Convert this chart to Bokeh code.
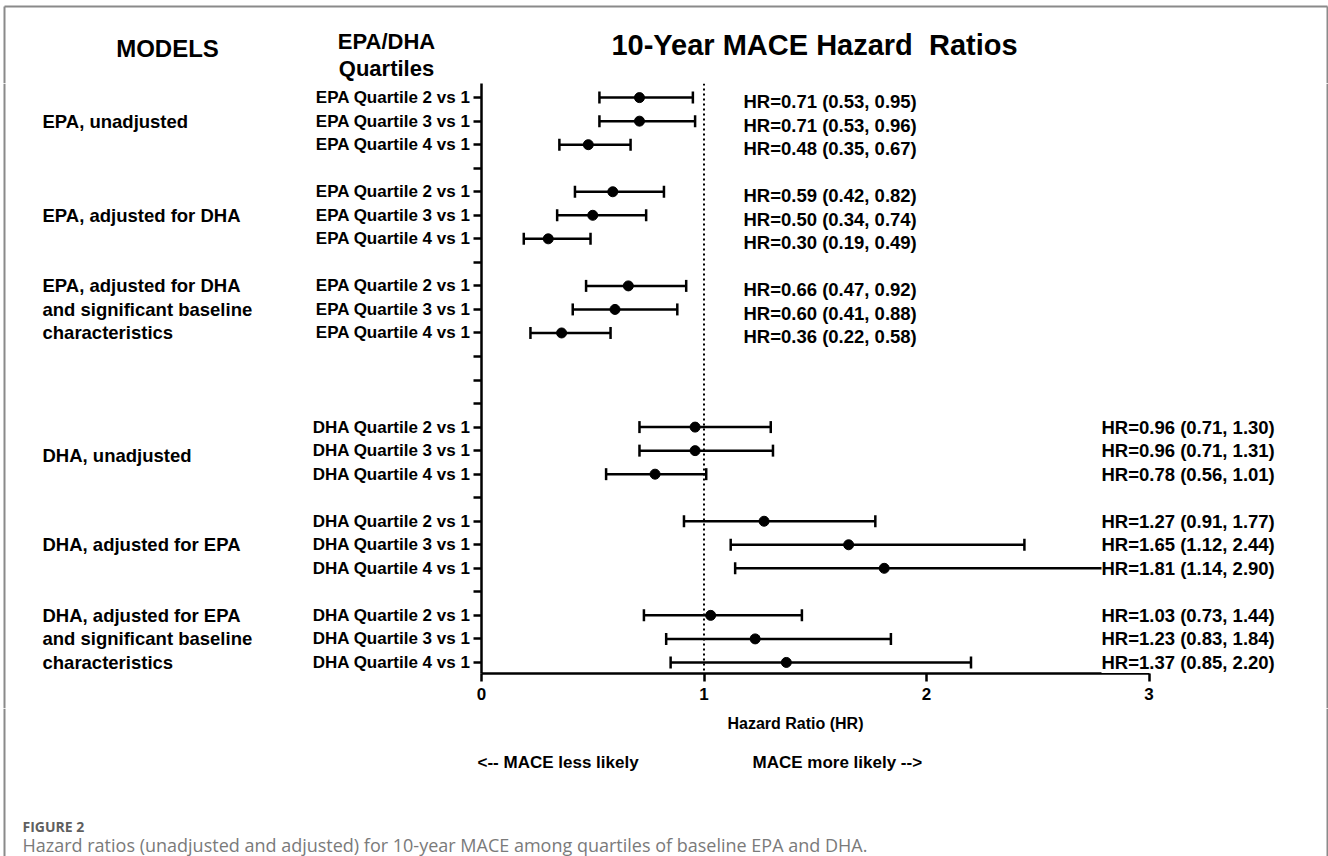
from bokeh.plotting import figure
from bokeh.layouts import column, row
from bokeh.models import (ColumnDataSource, Range1d, FixedTicker, Whisker, TeeHead,
                          Span, Label, LabelSet)
from bokeh.core.properties import value
from bokeh.embed import file_html
from bokeh.resources import INLINE

# ---------------- data ----------------
# y slots (top to bottom); "" = empty spacer row
slots = ["EPA Quartile 2 vs 1", "EPA Quartile 3 vs 1", "EPA Quartile 4 vs 1", "",
         "EPA Quartile 2 vs 1", "EPA Quartile 3 vs 1", "EPA Quartile 4 vs 1", "",
         "EPA Quartile 2 vs 1", "EPA Quartile 3 vs 1", "EPA Quartile 4 vs 1", "", "", "",
         "DHA Quartile 2 vs 1", "DHA Quartile 3 vs 1", "DHA Quartile 4 vs 1", "",
         "DHA Quartile 2 vs 1", "DHA Quartile 3 vs 1", "DHA Quartile 4 vs 1", "",
         "DHA Quartile 2 vs 1", "DHA Quartile 3 vs 1", "DHA Quartile 4 vs 1"]

hr = [0.71, 0.71, 0.48, 0.59, 0.50, 0.30, 0.66, 0.60, 0.36,
      0.96, 0.96, 0.78, 1.27, 1.65, 1.81, 1.03, 1.23, 1.37]
ci_low = [0.53, 0.53, 0.35, 0.42, 0.34, 0.19, 0.47, 0.41, 0.22,
          0.71, 0.71, 0.56, 0.91, 1.12, 1.14, 0.73, 0.83, 0.85]
ci_high = [0.95, 0.96, 0.67, 0.82, 0.74, 0.49, 0.92, 0.88, 0.58,
           1.30, 1.31, 1.01, 1.77, 2.44, 2.90, 1.44, 1.84, 2.20]

models = [["EPA, unadjusted"],
          ["EPA, adjusted for DHA"],
          ["EPA, adjusted for DHA", "and significant baseline", "characteristics"],
          ["DHA, unadjusted"],
          ["DHA, adjusted for EPA"],
          ["DHA, adjusted for EPA", "and significant baseline", "characteristics"]]

x_ticks = [0, 1, 2, 3]

title = "10-Year MACE Hazard\u00a0 Ratios"
x_title = "Hazard Ratio (HR)"
caption_head = "FIGURE 2"
caption = ("Hazard ratios (unadjusted and adjusted) for 10-year MACE among quartiles "
           "of baseline EPA and DHA.")

# ---------------- layout (page pixels) ----------------
W, H = 1328, 856
TOP_H = 83                 # header strip
MID_H = 625                # plot strip (frame 590 + 35 for x ticks)
BOT_H = H - TOP_H - MID_H  # caption strip
LEFT_W = 300               # model-name column
FRAME_L = 481              # page x of HR = 0
FRAME_W = 827
RIGHT_W = W - FRAME_L - FRAME_W   # thin strip holding right border
MAIN_W = W - LEFT_W - RIGHT_W
FRAME_H = 590
XBORDER = MID_H - FRAME_H
PX_PER_UNIT = 222.5
Y_TOP, Y_BOT = -0.6, 24.47
ROW_PX = FRAME_H / (Y_BOT - Y_TOP)

FONT = "Liberation Sans"
BORDER = "#8a8a8a"
BX_L, BX_R, BX_T = 4, W - 1, 6      # page border edges


def blank_fig(w, h, x0, y0, y_range=None):
    f = figure(width=w, height=h, output_backend="svg", toolbar_location=None,
               x_range=Range1d(x0, x0 + w),
               y_range=y_range if y_range is not None else Range1d(y0 + h, y0),
               x_axis_type=None, y_axis_type=None, frame_align=False,
               min_border_left=0, min_border_right=0, min_border_top=0, min_border_bottom=0)
    f.outline_line_color = None
    f.grid.visible = False
    f.background_fill_color = "white"
    f.border_fill_color = "white"
    return f


def label(f, text, x, y, size, align="left", color="black", font=FONT, style="bold"):
    f.add_layout(Label(x=x, y=y, text=text, text_font=font, text_font_style=style,
                       text_font_size=size, text_align=align, text_baseline="middle",
                       text_color=color))


def border_lines(f, xs, y0, y1, top_edge=None):
    f.segment(x0=xs, x1=xs, y0=[y0] * len(xs), y1=[y1] * len(xs),
              line_color=BORDER, line_width=2)
    if top_edge is not None:
        f.segment(x0=[BX_L], x1=[BX_R], y0=[top_edge], y1=[top_edge],
                  line_color=BORDER, line_width=2)


# ---------- header strip ----------
top = blank_fig(W, TOP_H, 0, 0)
border_lines(top, [BX_L, BX_R], BX_T, TOP_H, top_edge=BX_T)
label(top, "MODELS", 167, 48, "24px", "center")
label(top, "EPA/DHA", 386, 41, "22px", "center")
label(top, "Quartiles", 386, 68, "22px", "center")
label(top, title, 814, 44, "29px", "center")

# ---------- main plot ----------
rows = [i for i, s in enumerate(slots) if s]
is_epa = [slots[r].startswith("EPA") for r in rows]
LBL_X_EPA = (743 - FRAME_L) / PX_PER_UNIT
LBL_X_DHA = (1101 - FRAME_L) / PX_PER_UNIT
label_x = [LBL_X_EPA if e else LBL_X_DHA for e in is_epa]
label_y = [r + (0.17 if e else 0.0) for r, e in zip(rows, is_epa)]
texts = [f"HR={h:.2f} ({l:.2f}, {u:.2f})" for h, l, u in zip(hr, ci_low, ci_high)]

src = ColumnDataSource(dict(row=rows, hr=hr, lo=ci_low, hi=ci_high,
                            lx=label_x, ly=label_y, txt=texts))

p = figure(width=MAIN_W, height=MID_H, output_backend="svg", toolbar_location=None,
           x_range=Range1d(0, FRAME_W / PX_PER_UNIT), y_range=Range1d(Y_BOT, Y_TOP),
           min_border_left=FRAME_L - LEFT_W, min_border_right=0,
           min_border_top=0, min_border_bottom=XBORDER)
p.outline_line_color = None
p.grid.visible = False
p.background_fill_color = "white"
p.border_fill_color = "white"

xa = p.xaxis[0]
xa.ticker = FixedTicker(ticks=x_ticks)
xa.bounds = (0, 3)
ya = p.yaxis[0]
ya.ticker = FixedTicker(ticks=list(range(len(slots))))
ya.major_label_overrides = {i: s for i, s in enumerate(slots)}
for ax in (xa, ya):
    ax.axis_line_width = 2.5
    ax.axis_line_color = "black"
    ax.major_tick_line_width = 2.5
    ax.major_tick_line_color = "black"
    ax.major_tick_out = 8
    ax.major_tick_in = 0
    ax.minor_tick_line_color = None
    ax.major_label_text_font = FONT
    ax.major_label_text_font_style = "bold"
    ax.major_label_text_color = "black"
ya.major_label_text_font_size = "17px"
ya.major_label_standoff = 3
xa.major_label_text_font_size = "17px"
xa.major_label_standoff = 6

p.add_layout(Span(location=1, dimension="height", line_color="black",
                  line_width=2, line_dash="2 3"))

wh = Whisker(source=src, base="row", lower="lo", upper="hi", dimension="width",
             line_width=2.5, line_color="black", level="underlay",
             lower_head=TeeHead(size=12, line_width=2.5, line_color="black"),
             upper_head=TeeHead(size=12, line_width=2.5, line_color="black"))
p.add_layout(wh)

p.scatter(x="hr", y="row", source=src, size=10, color="black")

p.add_layout(LabelSet(x="lx", y="ly", text="txt", source=src,
                      text_font=value(FONT), text_font_style="bold", text_font_size="18.5px",
                      text_baseline="middle", text_align="left", text_color="black",
                      background_fill_color="white"))

# ---------- model-name column (same row scale, frame spans full strip) ----------
left_range = Range1d(Y_BOT + XBORDER / ROW_PX, Y_TOP)
left = blank_fig(LEFT_W, MID_H, 0, TOP_H, y_range=left_range)
border_lines(left, [BX_L], left_range.end, left_range.start)
groups = [(0, 1, 2), (4, 5, 6), (8, 9, 10), (14, 15, 16), (18, 19, 20), (22, 23, 24)]
for lines, g in zip(models, groups):
    ys = [g[1] + (0.2 if g[0] == 14 else 0)] if len(lines) == 1 else list(g)
    for t, yy in zip(lines, ys):
        label(left, t, 42, yy, "18.5px")

# ---------- thin right strip ----------
right = blank_fig(RIGHT_W, MID_H, FRAME_L + FRAME_W, TOP_H)
border_lines(right, [BX_R], TOP_H, TOP_H + MID_H)

# ---------- bottom strip ----------
bot = blank_fig(W, BOT_H, 0, TOP_H + MID_H)
border_lines(bot, [BX_L, BX_R], TOP_H + MID_H, H)
label(bot, x_title, 795, 723, "16px", "center")
label(bot, "<-- MACE less likely", 477, 762, "17px", "left")
label(bot, "MACE more likely -->", 752, 762, "17px", "left")
label(bot, caption_head, 22, 826, "14px", "left", color="#5f5f5f", font="Open Sans")
label(bot, caption, 22, 844, "18px", "left", color="#7a7a7a", font="Open Sans", style="normal")

layout = column(top, row(left, p, right, spacing=0), bot, spacing=0)

open("out.html", "w").write(file_html(layout, INLINE))
